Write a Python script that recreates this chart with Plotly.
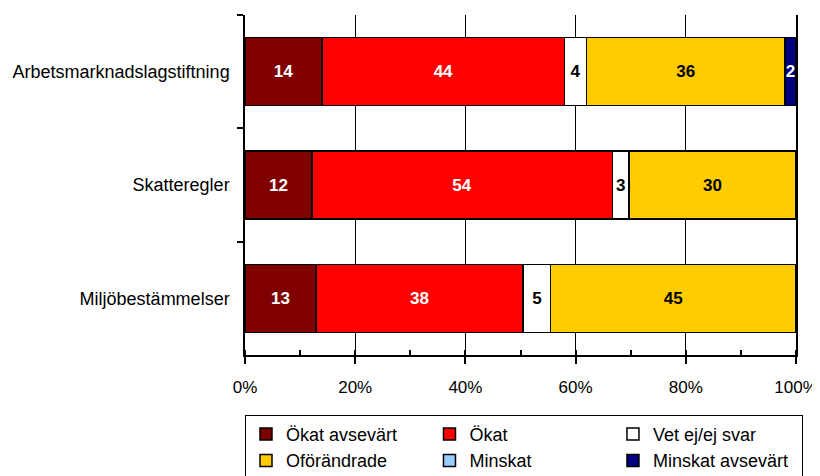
import plotly.graph_objects as go

kategorier = ["Arbetsmarknadslagstiftning", "Skatteregler", "Miljöbestämmelser"]

okat_avsevart = [14, 12, 13]
okat = [44, 54, 38]
vet_ej = [4, 3, 5]
oforandrade = [36, 30, 45]
minskat = [0, 0, 0]
minskat_avsevart = [2, 0, 0]

serier = [
    ("Ökat avsevärt", okat_avsevart, "#800000", "white"),
    ("Ökat", okat, "#FF0000", "white"),
    ("Vet ej/ej svar", vet_ej, "#FFFFFF", "black"),
    ("Oförändrade", oforandrade, "#FFCC00", "black"),
    ("Minskat", minskat, "#99CCFF", "black"),
    ("Minskat avsevärt", minskat_avsevart, "#000080", "white"),
]

FONT = "Liberation Sans, Arial, sans-serif"

fig = go.Figure()
for namn, varden, farg, textfarg in serier:
    fig.add_trace(go.Bar(
        y=kategorier, x=varden, name=namn, orientation="h",
        marker=dict(color=farg, line=dict(color="black", width=1.5)),
        text=[str(v) if v else "" for v in varden],
        textposition="inside", insidetextanchor="middle",
        constraintext="none", textangle=0,
        textfont=dict(family=FONT, size=17, color=textfarg, weight="bold"),
        cliponaxis=True,
    ))

# sidan har 8 px marginal runt diagrammet, därför förskjutna marginaler
fig.update_layout(
    width=812, height=468,
    barmode="stack", barnorm="percent", bargap=0.4,
    paper_bgcolor="white", plot_bgcolor="white",
    margin=dict(l=237, r=24, t=7, b=121, autoexpand=False),
    font=dict(family=FONT, size=18, color="black"),
    showlegend=True,
    legend=dict(
        orientation="h", x=0, xanchor="left", y=-0.176, yanchor="top",
        entrywidth=0.333, entrywidthmode="fraction",
        bordercolor="black", borderwidth=1, bgcolor="white",
        font=dict(family=FONT, size=18, color="black"),
        traceorder="normal", tracegroupgap=0,
    ),
)

fig.update_xaxes(
    range=[0, 100], dtick=20, ticksuffix="%", automargin=False,
    ticklabeloverflow="allow",
    showgrid=True, gridcolor="black", gridwidth=1.2,
    showline=True, linecolor="black", linewidth=1.5,
    ticks="outside", ticklen=7, tickcolor="black", tickwidth=1.5,
    minor=dict(dtick=10, ticks="inside", ticklen=5, tickcolor="black", showgrid=False),
    ticklabelstandoff=9, zeroline=False,
    tickfont=dict(family=FONT, size=17),
)

fig.update_yaxes(
    autorange="reversed", tickson="boundaries", automargin=False,
    showline=True, linecolor="black", linewidth=1.5, mirror=True,
    ticks="outside", ticklen=6, tickcolor="black", tickwidth=1.5,
    showgrid=False, ticklabelstandoff=10,
    tickfont=dict(family=FONT, size=18),
)

fig.write_html("out.html")
